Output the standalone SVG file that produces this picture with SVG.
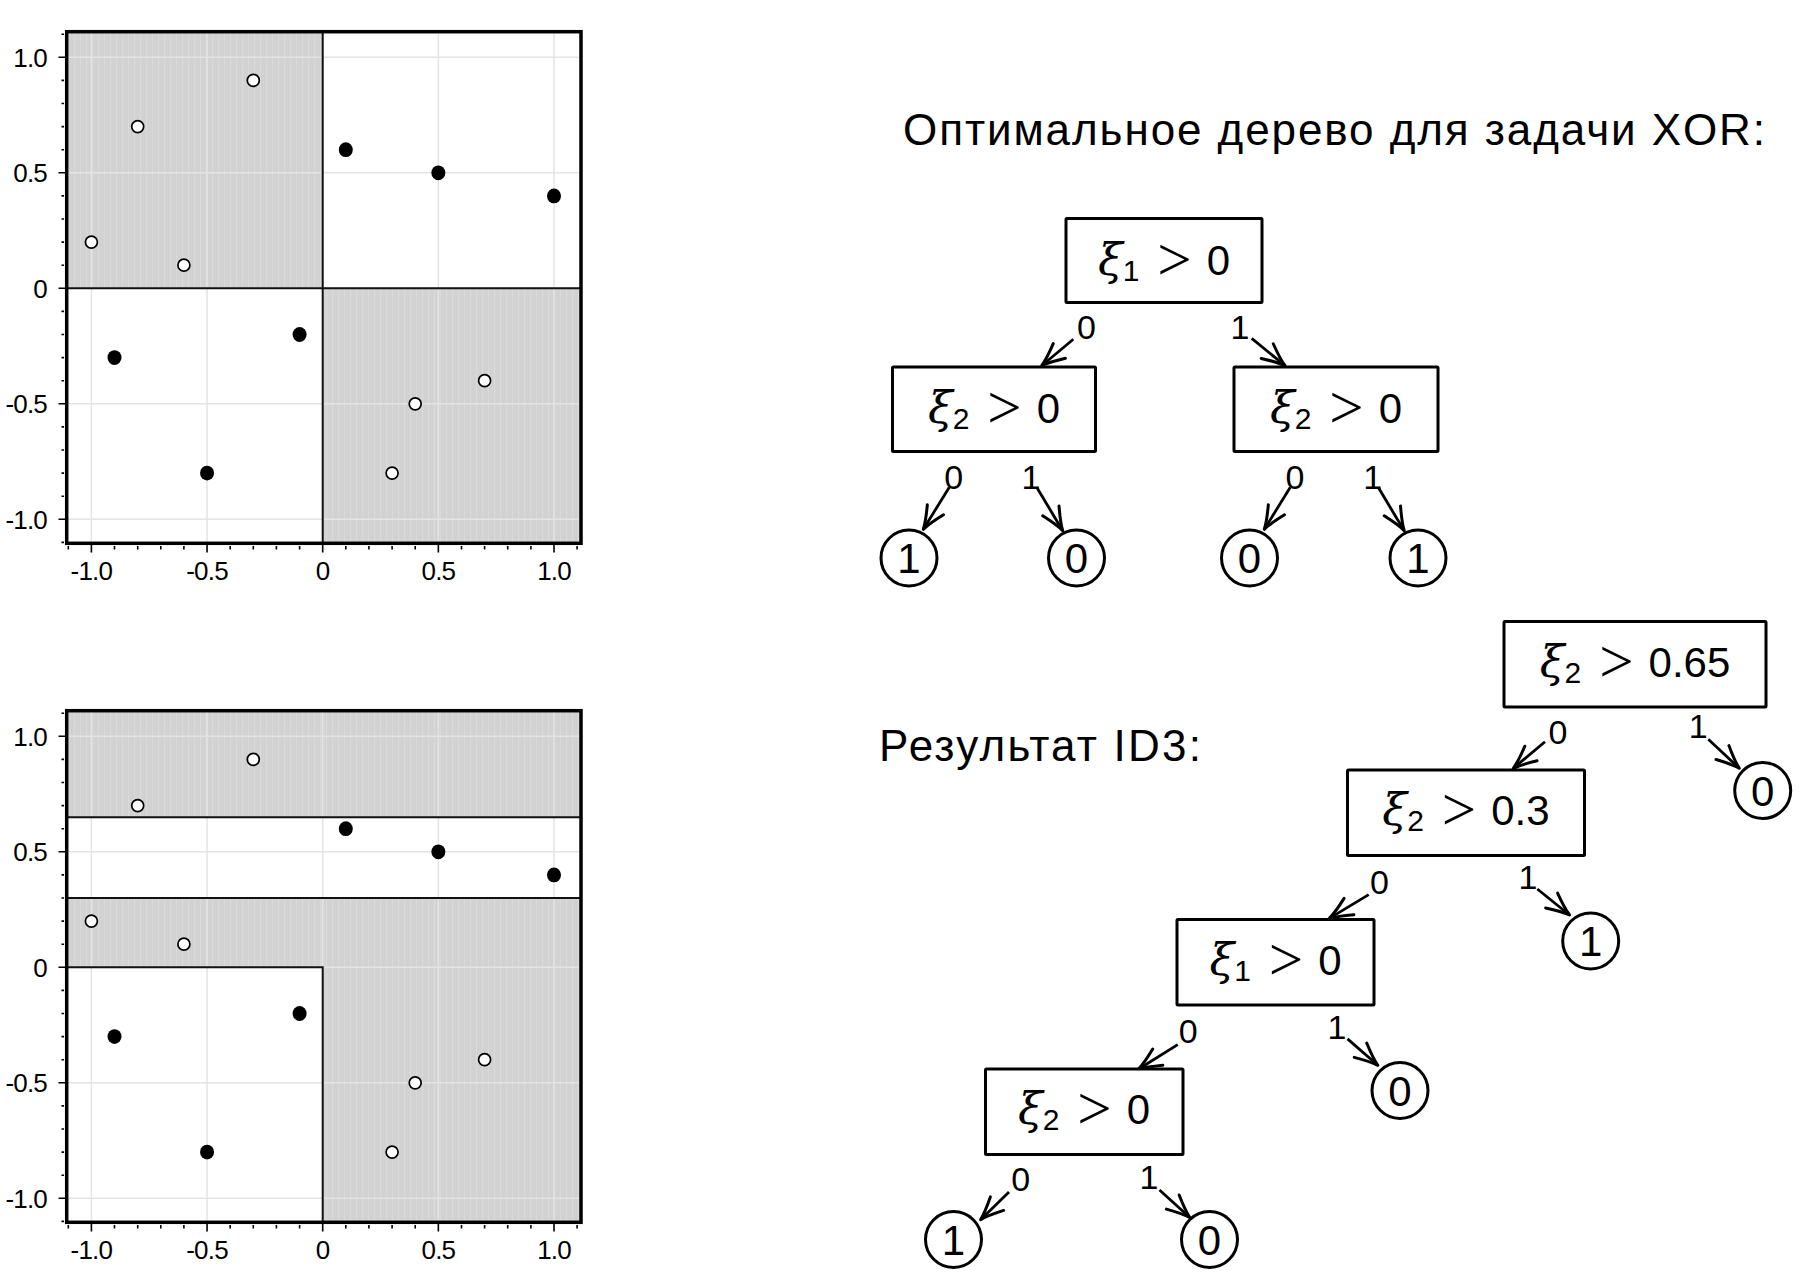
<svg xmlns="http://www.w3.org/2000/svg" xmlns:xlink="http://www.w3.org/1999/xlink" width="1806" height="1288" viewBox="0 0 1806 1288">
<defs>
<style>
.t{font-family:"Liberation Sans",Arial,sans-serif;fill:#000}
.axm{font-size:26px;text-anchor:middle;letter-spacing:-0.8px}
.axe{font-size:26px;text-anchor:end;letter-spacing:-0.8px}
.ttl{font-size:44px}
.nt{font-size:42px;text-anchor:middle}
.xi{font-family:"DejaVu Serif","Liberation Serif",serif;font-style:italic;font-size:45px}
.sb{font-size:30px}
.gt{font-family:"Liberation Serif","Times New Roman",serif;font-size:61px}
.el{font-size:34px;text-anchor:middle}
.box{fill:#fff;stroke:#000;stroke-width:3}
.leaf{fill:#fff;stroke:#000;stroke-width:3}
.edge{stroke:#000;stroke-width:2.8;fill:none;marker-end:url(#arr)}
.grid{stroke:#e4e4e4;stroke-width:1.5;fill:none}
.part{stroke:#111;stroke-width:2;fill:none}
.frame{fill:none;stroke:#000;stroke-width:3.5}
.tick{stroke:#000;stroke-width:1.6;fill:none}
.op{fill:#fff;stroke:#000;stroke-width:1.7}
.fp{fill:#000}
.gray{fill:url(#stripe)}
</style>
<pattern id="stripe" patternUnits="userSpaceOnUse" width="6" height="10">
<rect width="6" height="10" fill="#d2d2d2"/>
<rect x="2" width="1.2" height="10" fill="#dadada"/>
</pattern>
<marker id="arr" markerUnits="userSpaceOnUse" markerWidth="40" markerHeight="40" viewBox="-30 -20 40 40" refX="0" refY="0" orient="auto" overflow="visible">
<path d="M-23,-9.5 Q-8,-2 0,0 Q-8,2 -23,9.5" fill="none" stroke="#000" stroke-width="3" stroke-linecap="round" stroke-linejoin="round"/>
</marker>
<g id="gridlines">
<path class="grid" d="M91.4 31.7V543.3M207.05 31.7V543.3M322.7 31.7V543.3M438.35 31.7V543.3M554 31.7V543.3M66.7 57.3H581M66.7 172.8H581M66.7 288.3H581M66.7 403.8H581M66.7 519.3H581"/>
</g>
<g id="points">
<circle class="op" cx="91.4" cy="242.1" r="6"/>
<circle class="op" cx="137.7" cy="126.6" r="6"/>
<circle class="op" cx="183.9" cy="265.2" r="6"/>
<circle class="op" cx="253.3" cy="80.4" r="6"/>
<circle class="op" cx="392.1" cy="473.1" r="6"/>
<circle class="op" cx="415.2" cy="403.8" r="6"/>
<circle class="op" cx="484.6" cy="380.7" r="6"/>
<ellipse class="fp" cx="345.8" cy="149.7" rx="7" ry="7.4"/>
<ellipse class="fp" cx="438.35" cy="172.8" rx="7" ry="7.4"/>
<ellipse class="fp" cx="554" cy="195.9" rx="7" ry="7.4"/>
<ellipse class="fp" cx="114.5" cy="357.6" rx="7" ry="7.4"/>
<ellipse class="fp" cx="299.6" cy="334.5" rx="7" ry="7.4"/>
<ellipse class="fp" cx="207.05" cy="473.1" rx="7" ry="7.4"/>
</g>
<g id="axes">
<rect class="frame" x="66.7" y="31.7" width="514.3" height="511.6"/>
<path class="tick" d="M58.5 57.3H66M58.5 172.8H66M58.5 288.3H66M58.5 403.8H66M58.5 519.3H66"/>
<path class="tick" stroke-width="1.8" d="M61.5 34.2H64M61.5 80.4H64M61.5 103.5H64M61.5 126.6H64M61.5 149.7H64M61.5 195.9H64M61.5 219H64M61.5 242.1H64M61.5 265.2H64M61.5 311.4H64M61.5 334.5H64M61.5 357.6H64M61.5 380.7H64M61.5 426.9H64M61.5 450H64M61.5 473.1H64M61.5 496.2H64M61.5 542.4H64"/>
<path class="tick" d="M91.4 545V552.5M207.05 545V552.5M322.7 545V552.5M438.35 545V552.5M554 545V552.5"/>
<path class="tick" stroke-width="1.8" d="M68.3 546V549.5M114.5 546V549.5M137.7 546V549.5M160.8 546V549.5M183.9 546V549.5M230.2 546V549.5M253.3 546V549.5M276.4 546V549.5M299.6 546V549.5M345.8 546V549.5M368.9 546V549.5M392.1 546V549.5M415.2 546V549.5M461.5 546V549.5M484.6 546V549.5M507.7 546V549.5M530.9 546V549.5M577.1 546V549.5"/>
<text class="t axe" x="47" y="66.5">1.0</text>
<text class="t axe" x="47" y="182">0.5</text>
<text class="t axe" x="47" y="297.5">0</text>
<text class="t axe" x="47" y="413">-0.5</text>
<text class="t axe" x="47" y="528.5">-1.0</text>
<text class="t axm" x="91.4" y="579.5">-1.0</text>
<text class="t axm" x="207.05" y="579.5">-0.5</text>
<text class="t axm" x="322.7" y="579.5">0</text>
<text class="t axm" x="438.35" y="579.5">0.5</text>
<text class="t axm" x="554" y="579.5">1.0</text>
</g>
</defs>
<rect width="1806" height="1288" fill="#fff"/>

<g id="plot-xor">
<rect class="gray" x="66.7" y="31.7" width="256" height="256.6"/>
<rect class="gray" x="322.7" y="288.3" width="258.3" height="255"/>
<use xlink:href="#gridlines"/>
<path class="part" d="M322.7 31.7V543.3M66.7 288.3H581"/>
<use xlink:href="#points"/>
<use xlink:href="#axes"/>
</g>

<g id="plot-id3" transform="translate(0,679)">
<rect class="gray" x="66.7" y="31.7" width="514.3" height="511.6"/>
<rect fill="#fff" x="66.7" y="138.15" width="514.3" height="80.85"/>
<rect fill="#fff" x="66.7" y="288.3" width="256" height="255"/>
<use xlink:href="#gridlines"/>
<path class="part" d="M66.7 138.15H581M66.7 219H581M66.7 288.3H322.7V543.3"/>
<use xlink:href="#points"/>
<use xlink:href="#axes"/>
</g>

<text id="title-xor" class="t ttl" x="903" y="145" textLength="862" lengthAdjust="spacing">Оптимальное дерево для задачи XOR:</text>
<text id="title-id3" class="t ttl" x="879" y="761" textLength="322" lengthAdjust="spacing">Результат ID3:</text>

<g id="connectors">
<line class="edge" x1="1073.3" y1="339.3" x2="1041.7" y2="365.7"/>
<line class="edge" x1="1251.7" y1="338.3" x2="1285" y2="365.7"/>
<line class="edge" x1="949.3" y1="487.3" x2="923.3" y2="529.3"/>
<line class="edge" x1="1036.7" y1="487.3" x2="1062.7" y2="530.7"/>
<line class="edge" x1="1290.3" y1="487.3" x2="1264.3" y2="529.3"/>
<line class="edge" x1="1378.2" y1="487.3" x2="1404.2" y2="530.7"/>
<line class="edge" x1="1545" y1="741.7" x2="1513.3" y2="768.3"/>
<line class="edge" x1="1708.3" y1="739.3" x2="1739.3" y2="768.3"/>
<line class="edge" x1="1368.7" y1="894.6" x2="1329.3" y2="918.4"/>
<line class="edge" x1="1537.3" y1="889" x2="1569.5" y2="915"/>
<line class="edge" x1="1177.7" y1="1044.6" x2="1138.3" y2="1069.3"/>
<line class="edge" x1="1347.5" y1="1038.9" x2="1377.8" y2="1065.3"/>
<line class="edge" x1="1009" y1="1192" x2="980.6" y2="1219.7"/>
<line class="edge" x1="1159.5" y1="1190" x2="1189.8" y2="1217.5"/>
<text class="t el" x="1086.5" y="338.5">0</text>
<text class="t el" x="1240" y="338.5">1</text>
<text class="t el" x="953.7" y="488.5">0</text>
<text class="t el" x="1031" y="488.5">1</text>
<text class="t el" x="1295" y="488.5">0</text>
<text class="t el" x="1372.6" y="488.5">1</text>
<text class="t el" x="1558" y="743.5">0</text>
<text class="t el" x="1698.3" y="737.5">1</text>
<text class="t el" x="1379.4" y="893.5">0</text>
<text class="t el" x="1528" y="889">1</text>
<text class="t el" x="1188.3" y="1043.3">0</text>
<text class="t el" x="1337" y="1039">1</text>
<text class="t el" x="1020.6" y="1191">0</text>
<text class="t el" x="1149" y="1189">1</text>
</g>

<g id="node-root">
<rect class="box" x="1066" y="218.5" width="196" height="84" rx="1"/>
<text class="t nt" x="1164" y="274.5"><tspan class="xi">ξ</tspan><tspan class="sb" dy="6">1</tspan><tspan class="gt" dx="18" dy="-1">&gt;</tspan><tspan dx="15" dy="-5">0</tspan></text>
</g>
<g id="node-l">
<rect class="box" x="892.5" y="367" width="203" height="84.5" rx="1"/>
<text class="t nt" x="994" y="423"><tspan class="xi">ξ</tspan><tspan class="sb" dy="6">2</tspan><tspan class="gt" dx="18" dy="-1">&gt;</tspan><tspan dx="15" dy="-5">0</tspan></text>
</g>
<g id="node-r">
<rect class="box" x="1234" y="367" width="204" height="84.5" rx="1"/>
<text class="t nt" x="1336" y="423"><tspan class="xi">ξ</tspan><tspan class="sb" dy="6">2</tspan><tspan class="gt" dx="18" dy="-1">&gt;</tspan><tspan dx="15" dy="-5">0</tspan></text>
</g>
<g id="leaf-ll"><circle class="leaf" cx="909" cy="558" r="28"/><text class="t nt" x="909" y="573">1</text></g>
<g id="leaf-lr"><circle class="leaf" cx="1076.5" cy="558" r="28"/><text class="t nt" x="1076.5" y="573">0</text></g>
<g id="leaf-rl"><circle class="leaf" cx="1249.5" cy="558" r="28"/><text class="t nt" x="1249.5" y="573">0</text></g>
<g id="leaf-rr"><circle class="leaf" cx="1418" cy="558" r="28"/><text class="t nt" x="1418" y="573">1</text></g>

<g id="node-a">
<rect class="box" x="1504" y="621.5" width="262" height="85.5" rx="1"/>
<text class="t nt" x="1635" y="676.5"><tspan class="xi">ξ</tspan><tspan class="sb" dy="6">2</tspan><tspan class="gt" dx="18" dy="-1">&gt;</tspan><tspan dx="15" dy="-5">0.65</tspan></text>
</g>
<g id="node-b">
<rect class="box" x="1347.5" y="770" width="237" height="85.5" rx="1"/>
<text class="t nt" x="1466" y="825"><tspan class="xi">ξ</tspan><tspan class="sb" dy="6">2</tspan><tspan class="gt" dx="18" dy="-1">&gt;</tspan><tspan dx="15" dy="-5">0.3</tspan></text>
</g>
<g id="node-c">
<rect class="box" x="1177" y="919.5" width="197" height="85.5" rx="1"/>
<text class="t nt" x="1275.5" y="974.5"><tspan class="xi">ξ</tspan><tspan class="sb" dy="6">1</tspan><tspan class="gt" dx="18" dy="-1">&gt;</tspan><tspan dx="15" dy="-5">0</tspan></text>
</g>
<g id="node-d">
<rect class="box" x="985.5" y="1069" width="197.5" height="85.5" rx="1"/>
<text class="t nt" x="1084" y="1124"><tspan class="xi">ξ</tspan><tspan class="sb" dy="6">2</tspan><tspan class="gt" dx="18" dy="-1">&gt;</tspan><tspan dx="15" dy="-5">0</tspan></text>
</g>
<g id="leaf-a"><circle class="leaf" cx="1762.7" cy="790.5" r="28"/><text class="t nt" x="1762.7" y="805.5">0</text></g>
<g id="leaf-b"><circle class="leaf" cx="1590.7" cy="941" r="28"/><text class="t nt" x="1590.7" y="956">1</text></g>
<g id="leaf-c"><circle class="leaf" cx="1400" cy="1090.5" r="28"/><text class="t nt" x="1400" y="1105.5">0</text></g>
<g id="leaf-d1"><circle class="leaf" cx="953.5" cy="1239.5" r="28"/><text class="t nt" x="953.5" y="1254.5">1</text></g>
<g id="leaf-d2"><circle class="leaf" cx="1209.5" cy="1239.5" r="28"/><text class="t nt" x="1209.5" y="1254.5">0</text></g>
</svg>
